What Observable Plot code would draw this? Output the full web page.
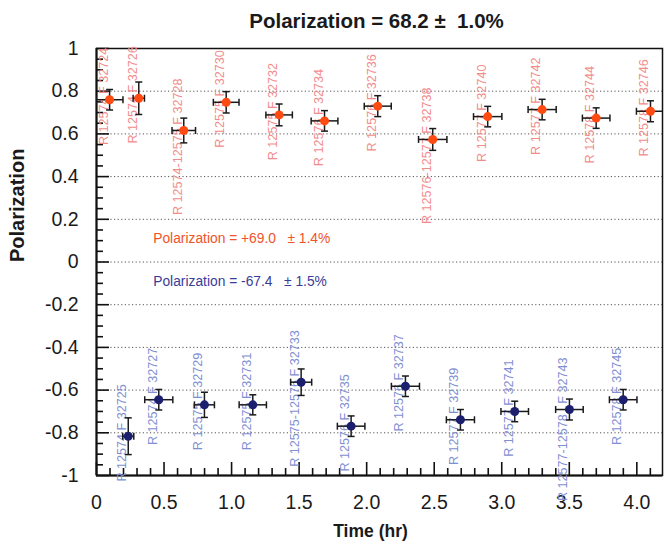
<!DOCTYPE html>
<html><head><meta charset="utf-8">
<script src="https://cdn.jsdelivr.net/npm/d3@7"></script>
<script src="https://cdn.jsdelivr.net/npm/@observablehq/plot@0.6"></script>
<style>
html,body{margin:0;padding:0;background:#fff;}
#chart svg{display:block;}
</style>
</head><body><div id="chart"></div>
<script>
// ---- data ----
const titleText = "Polarization = 68.2 \u00b1  1.0%";
const xTitle = "Time (hr)";
const yTitle = "Polarization";

const redX  = [0.097, 0.313, 0.646, 0.960, 1.352, 1.688, 2.082, 2.489, 2.896, 3.299, 3.699, 4.101];
const redY  = [0.760, 0.767, 0.616, 0.748, 0.689, 0.661, 0.730, 0.574, 0.681, 0.714, 0.674, 0.706];
const redEX = [0.099, 0.042, 0.087, 0.095, 0.098, 0.099, 0.100, 0.105, 0.105, 0.104, 0.102, 0.104];
const redEY = [0.048, 0.076, 0.058, 0.050, 0.051, 0.048, 0.049, 0.051, 0.048, 0.048, 0.048, 0.049];
const redLabels = ["R 12574 F 32724", "R 12574 F 32726", "R 12574-12575 F 32728", "R 12575 F 32730",
  "R 12575 F 32732", "R 12576 F 32734", "R 12576 F 32736", "R 12576-12577 F 32738",
  "R 12577 F 32740", "R 12577 F 32742", "R 12578 F 32744", "R 12578 F 32746"];

const blueX  = [0.235, 0.461, 0.799, 1.157, 1.515, 1.885, 2.287, 2.694, 3.096, 3.501, 3.899];
const blueY  = [-0.816, -0.645, -0.669, -0.669, -0.563, -0.769, -0.582, -0.739, -0.700, -0.691, -0.645];
const blueEX = [0.041, 0.104, 0.074, 0.101, 0.078, 0.102, 0.104, 0.104, 0.102, 0.102, 0.102];
const blueEY = [0.086, 0.048, 0.059, 0.047, 0.062, 0.048, 0.048, 0.048, 0.048, 0.049, 0.048];
const blueLabels = ["R 12574 F 32725", "R 12574 F 32727", "R 12575 F 32729", "R 12575 F 32731",
  "R 12575-12576 F 32733", "R 12576 F 32735", "R 12576 F 32737", "R 12577 F 32739",
  "R 12577 F 32741", "R 12577-12578\u00a0\u00a0 F 32743", "R 12578 F 32745"];

const legendRed  = "Polarization = +69.0 \u00a0\u00a0\u00b1 1.4%";
const legendBlue = "Polarization = -67.4 \u00a0\u00a0\u00b1 1.5%";

const yTickValues = [-1, -0.8, -0.6, -0.4, -0.2, 0, 0.2, 0.4, 0.6, 0.8, 1];
const yTickLabels = ["-1", "-0.8", "-0.6", "-0.4", "-0.2", "0", "0.2", "0.4", "0.6", "0.8", "1"];
const xTickValues = [0, 0.5, 1, 1.5, 2, 2.5, 3, 3.5, 4];
const xTickLabels = ["0", "0.5", "1.0", "1.5", "2.0", "2.5", "3.0", "3.5", "4.0"];

// ---- layout ----
const W = 664, H = 547, ML = 96, MR = 2, MT = 48, MB = 72;
const XMAX = 4.19;
const pw = W - ML - MR, ph = H - MT - MB;
const dxu = XMAX / pw, dyu = 2 / ph;
const capX = 3.5 * dxu, capY = 3.5 * dyu;
const font = "'Liberation Sans', Arial, Helvetica, sans-serif";

const minorY = d3.range(-20, 21).map(k => k * 0.05).filter((v, i) => (i % 4) !== 0);
const minorX = d3.range(1, 42).map(k => k * 0.1).filter((v, i) => ((i + 1) % 5) !== 0);

function series(xs, ys, exs, eys, labels) {
  return xs.map((x, i) => ({x, y: ys[i], ex: exs[i], ey: eys[i], label: labels[i]}));
}
const red = series(redX, redY, redEX, redEY, redLabels);
const blue = series(blueX, blueY, blueEX, blueEY, blueLabels);

function errMarks(data, dotColor, labelColor) {
  const s = {stroke: "#1a1a1a", strokeWidth: 1.5, clip: true};
  return [
    Plot.text(data, {x: "x", y: "y", text: "label", rotate: -90, textAnchor: "end", lineAnchor: "bottom",
      dx: -2, dy: -52, fill: labelColor, fontSize: 12.6}),
    Plot.link(data, {x1: d => d.x - d.ex, x2: d => d.x + d.ex, y1: "y", y2: "y", ...s}),
    Plot.link(data, {x1: "x", x2: "x", y1: d => d.y - d.ey, y2: d => d.y + d.ey, ...s}),
    Plot.link(data, {x1: d => d.x - d.ex, x2: d => d.x - d.ex, y1: d => d.y - capY, y2: d => d.y + capY, ...s}),
    Plot.link(data, {x1: d => d.x + d.ex, x2: d => d.x + d.ex, y1: d => d.y - capY, y2: d => d.y + capY, ...s}),
    Plot.link(data, {x1: d => d.x - capX, x2: d => d.x + capX, y1: d => d.y + d.ey, y2: d => d.y + d.ey, ...s}),
    Plot.link(data, {x1: d => d.x - capX, x2: d => d.x + capX, y1: d => d.y - d.ey, y2: d => d.y - d.ey, ...s}),
    Plot.dot(data, {x: "x", y: "y", r: 4.5, fill: dotColor})
  ];
}

const chart = Plot.plot({
  width: W, height: H,
  marginLeft: ML, marginRight: MR, marginTop: MT, marginBottom: MB,
  x: {domain: [0, XMAX], axis: null},
  y: {domain: [-1, 1], axis: null},
  style: {fontFamily: font, background: "white", overflow: "visible"},
  marks: [
    Plot.ruleY(yTickValues, {y: d => d, stroke: "#555", strokeWidth: 1, strokeDasharray: "1.2,2.4"}),
    Plot.frame({stroke: "#111", strokeWidth: 1.5}),
    Plot.ruleX([0], {x: d => d, stroke: "#111", strokeWidth: 2}),
    Plot.ruleY([-1], {y: d => d, stroke: "#111", strokeWidth: 2}),
    Plot.tickY(yTickValues, {y: d => d, insetRight: pw - 13, stroke: "#111", strokeWidth: 1.6}),
    Plot.tickY(minorY, {y: d => d, insetRight: pw - 7, stroke: "#111", strokeWidth: 1.6}),
    Plot.tickX(xTickValues, {x: d => d, insetTop: ph - 13, stroke: "#111", strokeWidth: 1.6}),
    Plot.tickX(minorX, {x: d => d, insetTop: ph - 7, stroke: "#111", strokeWidth: 1.6}),
    Plot.text(yTickValues, {y: d => d, text: (d, i) => yTickLabels[i], frameAnchor: "left", textAnchor: "end",
      dx: -18, fontSize: 19.5, fill: "#1a1a1a"}),
    Plot.text(xTickValues, {x: d => d, text: (d, i) => xTickLabels[i], frameAnchor: "bottom",
      dy: 33, fontSize: 19.5, fill: "#1a1a1a"}),
    ...errMarks(red, "#ff4a12", "#f28c8c"),
    ...errMarks(blue, "#1c1f6e", "#7f8fd2"),
    Plot.text([legendRed], {x: () => 0.42, y: () => 0.088, text: d => d, textAnchor: "start", lineAnchor: "bottom",
      fill: "#f0522a", fontSize: 13.8}),
    Plot.text([legendBlue], {x: () => 0.42, y: () => -0.112, text: d => d, textAnchor: "start", lineAnchor: "bottom",
      fill: "#3a3c98", fontSize: 13.8}),
    Plot.text([titleText], {text: d => d, frameAnchor: "top", lineAnchor: "bottom", dy: -21, dx: -3,
      fontWeight: "bold", fontSize: 20.5, fill: "#1a1a1a"}),
    Plot.text([yTitle], {text: d => d, frameAnchor: "left", rotate: -90, dx: -78.5,
      fontWeight: "bold", fontSize: 20, fill: "#1a1a1a"}),
    Plot.text([xTitle], {text: d => d, frameAnchor: "bottom", dy: 61, dx: -9,
      fontWeight: "bold", fontSize: 17.5, fill: "#1a1a1a"})
  ]
});
document.getElementById("chart").appendChild(chart);
</script>
</body></html>
